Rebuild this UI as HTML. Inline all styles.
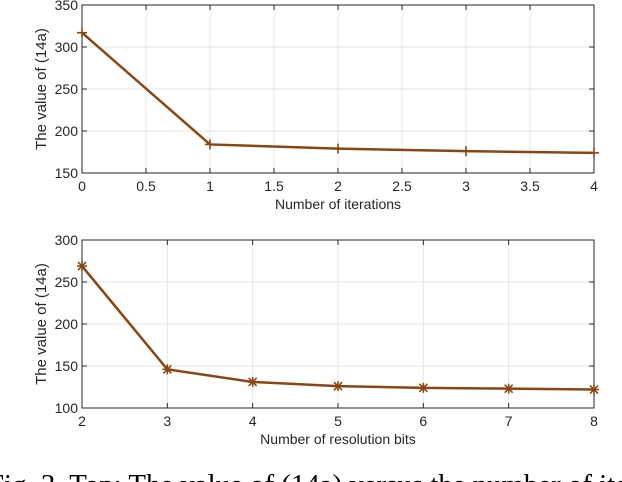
<!DOCTYPE html>
<html><head><meta charset="utf-8"><style>
html,body{margin:0;padding:0;background:#fff;overflow:hidden}
svg{display:block;font-family:"Liberation Sans",sans-serif}
.cap{font-family:"Liberation Serif","Times New Roman",serif}
</style></head><body>
<svg id="c" width="622" height="482" viewBox="0 0 622 482"></svg>
<script>
const topX=[0,1,2,3,4];
const topY=[317,184,179,176,174];
const topXTicks=[0,0.5,1,1.5,2,2.5,3,3.5,4];
const topYTicks=[150,200,250,300,350];
const botX=[2,3,4,5,6,7,8];
const botY=[269,146,131,126,124,123,122];
const botXTicks=[2,3,4,5,6,7,8];
const botYTicks=[100,150,200,250,300];
const NS="http://www.w3.org/2000/svg";
const svg=document.getElementById('c');
function mk(t,a,p){const e=document.createElementNS(NS,t);for(const k in a)e.setAttribute(k,a[k]);(p||svg).appendChild(e);return e;}
function panel(name,L,R,T,B,xmin,xmax,ymin,ymax,xt,yt,xs,ys,xlabel,mark){
  const g=mk('g',{});
  
  
  const sx=v=>L+(v-xmin)/(xmax-xmin)*(R-L);
  const sy=v=>B-(v-ymin)/(ymax-ymin)*(B-T);
  xt.forEach(v=>{const x=sx(v);
    const gl=mk('line',{x1:x,x2:x,y1:T,y2:B,stroke:'#e6e6e6','stroke-width':1},g);
    
    mk('line',{x1:x,x2:x,y1:B,y2:B-5,stroke:'#262626'},g);mk('line',{x1:x,x2:x,y1:T,y2:T+5,stroke:'#262626'},g);
    const t=mk('text',{x:x,y:B+18,'text-anchor':'middle','font-size':14,fill:'#262626'},g);t.textContent=v;
    });
  yt.forEach(v=>{const y=sy(v);
    const gl=mk('line',{x1:L,x2:R,y1:y,y2:y,stroke:'#e6e6e6','stroke-width':1},g);
    
    mk('line',{x1:L,x2:L+5,y1:y,y2:y,stroke:'#262626'},g);mk('line',{x1:R,x2:R-5,y1:y,y2:y,stroke:'#262626'},g);
    const t=mk('text',{x:L-4,y:y+5,'text-anchor':'end','font-size':14,fill:'#262626'},g);t.textContent=v;
    });
  const box=mk('rect',{x:L,y:T,width:R-L,height:B-T,fill:'none',stroke:'#262626','stroke-width':1},g);
  
  const pts=xs.map((v,i)=>sx(v)+','+sy(ys[i])).join(' ');
  const pl=mk('polyline',{points:pts,fill:'none',stroke:'#8b4513','stroke-width':2.5},g);
  
  xs.forEach((v,i)=>{const x=sx(v),y=sy(ys[i]);
    const m=mk('g',{stroke:'#8b4513','stroke-width':1.6},g);
    
    mk('line',{x1:x-5,x2:x+5,y1:y,y2:y},m);mk('line',{x1:x,x2:x,y1:y-5,y2:y+5},m);
    if(mark){mk('line',{x1:x-4,x2:x+4,y1:y-4,y2:y+4},m);mk('line',{x1:x-4,x2:x+4,y1:y+4,y2:y-4},m);}});
  const xl=mk('text',{x:(L+R)/2,y:B+36,'text-anchor':'middle','font-size':14,fill:'#262626'},g);xl.textContent=xlabel;
  
  const cy=(T+B)/2;
  const yl=mk('text',{x:46,y:cy,'text-anchor':'middle','font-size':15,fill:'#262626',transform:'rotate(-90 46 '+cy+')'},g);yl.textContent='The value of (14a)';
  
}
panel('top-chart',82,594,5,173,0,4,150,350,topXTicks,topYTicks,topX,topY,'Number of iterations',false);
panel('bottom-chart',82,594,240,408,2,8,100,300,botXTicks,botYTicks,botX,botY,'Number of resolution bits',true);
const cap=mk('text',{x:-12,y:494,'font-size':28,fill:'#000','class':'cap',textLength:640,lengthAdjust:'spacingAndGlyphs'});
cap.textContent='Fig. 3. Top: The value of (14a) versus the number of ite';


</script>
</body></html>
